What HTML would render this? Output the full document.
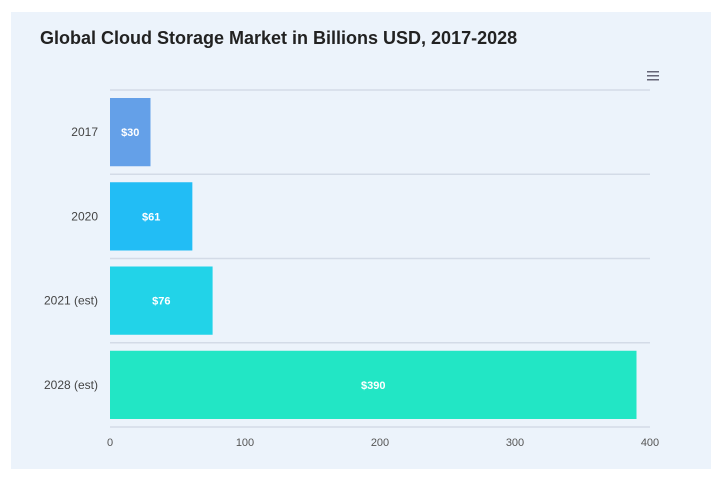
<!DOCTYPE html>
<html><head><meta charset="utf-8"><style>
body{margin:0;background:#fff;width:720px;height:485px;overflow:hidden;font-family:"Liberation Sans",sans-serif}
#panel{position:absolute;left:11px;top:12px;width:700px;height:457px;background:#ecf3fb}
</style></head><body>
<div id="panel"></div>
<svg id="chart" width="720" height="485" style="position:absolute;left:0;top:0">
<text x="40" y="44" font-size="18" font-weight="bold" fill="#222" font-family="Liberation Sans, sans-serif">Global Cloud Storage Market in Billions USD, 2017-2028</text>
<g><rect x="647" y="71" width="12" height="1.5" fill="#667"/><rect x="647" y="75" width="12" height="1.5" fill="#667"/><rect x="647" y="79" width="12" height="1.5" fill="#667"/></g>
<g id="grid"></g><g id="bars"></g><g id="xticks"></g>
</svg>
<script>
const categories=["2017","2020","2021 (est)","2028 (est)"];
const values=[30,61,76,390];
const colors=["#64a0e8","#22bdf5","#22d3e8","#22e6c5"];
const tickValues=[0,100,200,300,400];
const ns="http://www.w3.org/2000/svg";
const x0=110,x1=650,top0=90,bottom0=427,xMax=400;
const xs=v=>x0+(v/xMax)*(x1-x0);
const band=(bottom0-top0)/categories.length;
function mk(t,a,p){const e=document.createElementNS(ns,t);for(const k in a)e.setAttribute(k,a[k]);p.appendChild(e);return e;}
const grid=document.getElementById('grid'),bars=document.getElementById('bars'),xt=document.getElementById('xticks');
for(let i=0;i<=categories.length;i++){
 const l=mk('line',{x1:x0,x2:x1,y1:top0+i*band,y2:top0+i*band,stroke:'#d3dbe7','stroke-width':1.5},grid);
 
 
}
categories.forEach((c,i)=>{
 const y=top0+i*band+8,h=band-16;
 const r=mk('rect',{x:x0,y:y,width:xs(values[i])-x0,height:h,fill:colors[i]},bars);
 
 
 const t=mk('text',{x:(x0+xs(values[i]))/2,y:y+h/2+4,'text-anchor':'middle','font-size':11,'font-weight':'bold',fill:'#fff'},bars);
 t.textContent='$'+values[i];
 
 
 const lb=mk('text',{x:98,y:y+h/2+4,'text-anchor':'end','font-size':12,fill:'#444'},bars);
 lb.textContent=c;
 
 
});
tickValues.forEach(v=>{
 const t=mk('text',{x:xs(v),y:446,'text-anchor':'middle','font-size':11,fill:'#555'},xt);
 t.textContent=v;
 
 
});
</script>
</body></html>
